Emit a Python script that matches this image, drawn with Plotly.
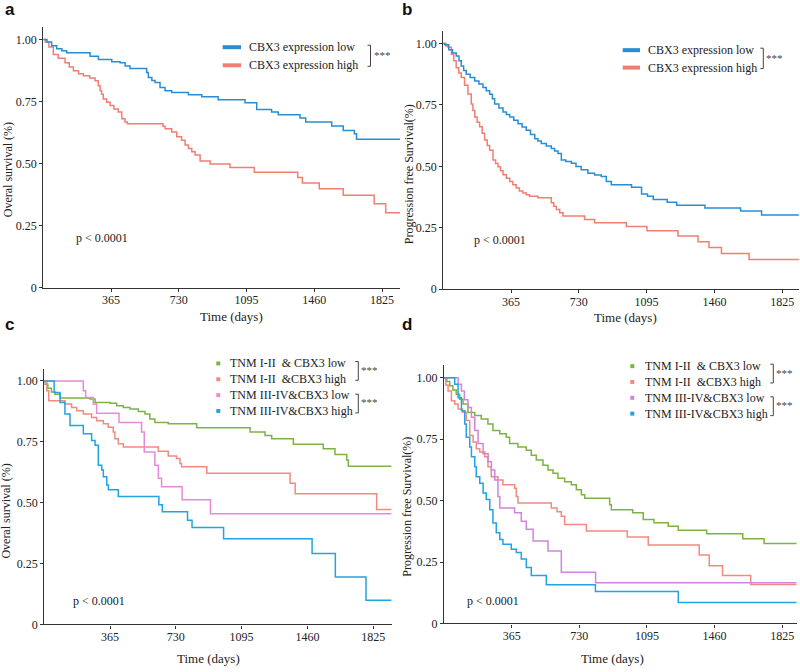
import plotly.graph_objects as go

# ---------------- data ----------------
# Panel a: overall survival, CBX3 low / high
a_low_t = [0, 20, 45, 72, 100, 126, 252, 297, 369, 414, 441, 467, 557, 566, 585, 602, 629, 656, 692, 782, 854, 942, 1087, 1150, 1230, 1266, 1383, 1414, 1554, 1616, 1676, 1688, 1922]
a_low_s = [1.0, 0.99, 0.975, 0.963, 0.955, 0.947, 0.933, 0.92, 0.911, 0.907, 0.894, 0.884, 0.867, 0.847, 0.835, 0.827, 0.807, 0.794, 0.787, 0.778, 0.77, 0.758, 0.745, 0.718, 0.708, 0.697, 0.684, 0.668, 0.652, 0.634, 0.621, 0.598, 0.598]
a_high_t = [0, 10, 30, 54, 80, 117, 140, 162, 190, 216, 250, 279, 296, 306, 314, 323, 341, 360, 380, 404, 423, 440, 453, 645, 656, 692, 719, 745, 764, 782, 800, 818, 845, 899, 1006, 1137, 1371, 1396, 1487, 1616, 1783, 1845, 1922]
a_high_s = [1.0, 0.99, 0.97, 0.94, 0.925, 0.907, 0.89, 0.874, 0.862, 0.854, 0.845, 0.834, 0.814, 0.794, 0.78, 0.761, 0.747, 0.734, 0.72, 0.708, 0.681, 0.668, 0.661, 0.651, 0.641, 0.628, 0.608, 0.594, 0.575, 0.561, 0.548, 0.535, 0.511, 0.499, 0.484, 0.465, 0.444, 0.422, 0.399, 0.373, 0.338, 0.302, 0.302]

# Panel b: progression free survival, CBX3 low / high
b_low_t = [0, 8, 30, 50, 70, 85, 97, 110, 124, 145, 170, 192, 214, 232, 250, 265, 277, 300, 322, 340, 358, 380, 403, 425, 447, 470, 493, 510, 528, 555, 582, 600, 618, 636, 660, 690, 715, 743, 779, 815, 851, 878, 905, 1014, 1068, 1100, 1131, 1206, 1257, 1409, 1601, 1714, 1915]
b_low_s = [1.0, 0.995, 0.975, 0.962, 0.949, 0.93, 0.909, 0.89, 0.875, 0.862, 0.848, 0.835, 0.821, 0.808, 0.794, 0.775, 0.754, 0.738, 0.721, 0.711, 0.701, 0.688, 0.674, 0.66, 0.647, 0.63, 0.613, 0.603, 0.593, 0.583, 0.573, 0.563, 0.553, 0.526, 0.52, 0.513, 0.5, 0.486, 0.472, 0.465, 0.459, 0.439, 0.425, 0.415, 0.388, 0.379, 0.365, 0.354, 0.342, 0.331, 0.318, 0.302, 0.302]
b_high_t = [0, 15, 26, 44, 57, 70, 84, 97, 115, 133, 151, 160, 170, 183, 196, 210, 223, 237, 250, 268, 282, 295, 308, 322, 340, 358, 375, 393, 410, 429, 447, 465, 510, 582, 595, 609, 627, 645, 761, 815, 986, 1097, 1264, 1372, 1431, 1498, 1647, 1915]
b_high_s = [1.0, 0.99, 0.985, 0.956, 0.93, 0.902, 0.88, 0.862, 0.83, 0.795, 0.754, 0.728, 0.701, 0.68, 0.661, 0.635, 0.607, 0.585, 0.566, 0.526, 0.512, 0.499, 0.482, 0.466, 0.452, 0.439, 0.425, 0.412, 0.4, 0.392, 0.385, 0.379, 0.372, 0.352, 0.338, 0.325, 0.311, 0.298, 0.284, 0.271, 0.255, 0.238, 0.217, 0.193, 0.17, 0.146, 0.121, 0.121]

# Panel c: overall survival by TNM stage & CBX3
c_g1_t = [0, 4, 20, 40, 60, 88, 254, 282, 366, 402, 439, 476, 522, 559, 586, 614, 688, 846, 1142, 1225, 1262, 1382, 1548, 1613, 1678, 1687, 1927]
c_g1_s = [1.0, 0.987, 0.97, 0.955, 0.946, 0.93, 0.926, 0.912, 0.909, 0.898, 0.891, 0.885, 0.875, 0.864, 0.844, 0.83, 0.824, 0.808, 0.79, 0.776, 0.763, 0.74, 0.722, 0.698, 0.675, 0.65, 0.65]
c_g2_t = [0, 15, 25, 115, 152, 180, 217, 263, 291, 328, 355, 383, 392, 411, 439, 633, 688, 734, 753, 762, 902, 1364, 1392, 1844, 1927]
c_g2_s = [1.0, 0.96, 0.919, 0.905, 0.891, 0.878, 0.864, 0.85, 0.837, 0.824, 0.81, 0.79, 0.763, 0.742, 0.729, 0.711, 0.692, 0.682, 0.661, 0.648, 0.621, 0.58, 0.537, 0.472, 0.472]
c_g3_t = [0, 217, 230, 272, 291, 415, 540, 555, 614, 633, 651, 765, 922, 1927]
c_g3_s = [1.0, 0.96, 0.932, 0.905, 0.868, 0.83, 0.79, 0.708, 0.654, 0.6, 0.566, 0.512, 0.455, 0.455]
c_g4_t = [0, 55, 88, 115, 143, 217, 263, 282, 300, 319, 328, 347, 356, 411, 636, 655, 795, 820, 995, 1486, 1615, 1785, 1927]
c_g4_s = [1.0, 0.953, 0.912, 0.864, 0.817, 0.783, 0.756, 0.736, 0.654, 0.634, 0.607, 0.573, 0.553, 0.525, 0.492, 0.463, 0.428, 0.398, 0.352, 0.291, 0.195, 0.099, 0.099]

# Panel d: progression free survival by TNM stage & CBX3
d_g1_t = [0, 15, 31, 48, 66, 85, 103, 129, 166, 201, 237, 264, 301, 336, 354, 399, 444, 471, 498, 534, 561, 588, 615, 651, 687, 714, 741, 759, 894, 903, 1018, 1075, 1133, 1210, 1264, 1417, 1612, 1727, 1903]
d_g1_s = [1.0, 0.985, 0.967, 0.95, 0.933, 0.912, 0.893, 0.859, 0.846, 0.832, 0.812, 0.785, 0.772, 0.758, 0.732, 0.718, 0.705, 0.685, 0.665, 0.644, 0.624, 0.611, 0.591, 0.577, 0.564, 0.544, 0.524, 0.51, 0.483, 0.463, 0.45, 0.423, 0.41, 0.396, 0.379, 0.365, 0.345, 0.325, 0.325]
d_g2_t = [0, 10, 22, 40, 58, 76, 100, 120, 139, 157, 174, 193, 220, 237, 255, 291, 318, 381, 390, 399, 579, 610, 633, 651, 768, 989, 1102, 1377, 1431, 1503, 1655, 1903]
d_g2_s = [1.0, 0.97, 0.946, 0.906, 0.893, 0.873, 0.86, 0.826, 0.765, 0.738, 0.711, 0.698, 0.678, 0.638, 0.597, 0.584, 0.564, 0.55, 0.517, 0.49, 0.47, 0.455, 0.436, 0.403, 0.376, 0.352, 0.319, 0.279, 0.235, 0.195, 0.158, 0.158]
d_g3_t = [0, 76, 94, 110, 129, 148, 166, 184, 211, 238, 256, 274, 291, 301, 381, 417, 444, 481, 561, 633, 818, 1903]
d_g3_s = [1.0, 0.973, 0.946, 0.91, 0.879, 0.839, 0.785, 0.732, 0.691, 0.658, 0.624, 0.584, 0.517, 0.47, 0.45, 0.416, 0.383, 0.336, 0.295, 0.208, 0.166, 0.166]
d_g4_t = [0, 58, 76, 94, 112, 120, 139, 148, 166, 174, 193, 211, 228, 247, 264, 282, 301, 318, 363, 390, 417, 444, 471, 552, 817, 1264, 1903]
d_g4_s = [1.0, 0.973, 0.919, 0.866, 0.812, 0.758, 0.718, 0.678, 0.638, 0.597, 0.571, 0.531, 0.504, 0.463, 0.409, 0.369, 0.342, 0.322, 0.302, 0.289, 0.262, 0.228, 0.195, 0.157, 0.13, 0.085, 0.085]

two_group_names = ["CBX3 expression low", "CBX3 expression high"]
four_group_names = ["TNM I-II  & CBX3 low", "TNM I-II  &CBX3 high", "TNM III-IV&CBX3 low", "TNM III-IV&CBX3 high"]
x_tick_vals = [365, 730, 1095, 1460, 1825]
y_tick_vals = [0, 0.25, 0.5, 0.75, 1.0]
y_tick_text = ["0", "0.25", "0.50", "0.75", "1.00"]

# ---------------- styling ----------------
W, H = 800, 672
SERIF = "Liberation Serif"
BLUE2, RED2 = "#2A8DD4", "#F07F72"
GREEN, RED4, PINK_C, PINK_D, BLUE4 = "#7CB342", "#F28A80", "#E58BD6", "#CE85DC", "#22A3E2"
AX = "#333333"


def px(x):
    return x / W


def py(y):
    return 1 - y / H


# panels: (x0 px, x1 px, y_bottom px, y_top px, x range end)
panels = {
    "a": (43.3, 400.0, 290.7, 27.5, 1922),
    "b": (443.2, 798.9, 292.3, 31.6, 1915),
    "c": (44.2, 391.6, 631.0, 372.7, 1927),
    "d": (444.0, 796.7, 630.0, 369.3, 1903),
}

fig = go.Figure()
layout = dict(width=W, height=H, margin=dict(l=0, r=0, t=0, b=0),
              paper_bgcolor="white", plot_bgcolor="white", showlegend=False)

axis_common = dict(showline=True, linecolor=AX, linewidth=1.3, ticks="outside", ticklen=3,
                   tickwidth=1, tickcolor=AX, showgrid=False, zeroline=False,
                   tickfont=dict(family=SERIF, size=12, color="#222"))

for i, (k, (x0, x1, yb, yt, xend)) in enumerate(panels.items()):
    n = "" if i == 0 else str(i + 1)
    layout["xaxis" + n] = dict(axis_common, domain=[px(x0), px(x1)], range=[0, xend],
                               anchor="y" + n, tickvals=x_tick_vals, ticklabelstandoff=-2)
    layout["yaxis" + n] = dict(axis_common, domain=[py(yb), py(yt)], range=[0, 1.05],
                               anchor="x" + n, tickvals=y_tick_vals, ticktext=y_tick_text)

series = [
    (1, a_high_t, a_high_s, RED2), (1, a_low_t, a_low_s, BLUE2),
    (2, b_high_t, b_high_s, RED2), (2, b_low_t, b_low_s, BLUE2),
    (3, c_g1_t, c_g1_s, GREEN), (3, c_g2_t, c_g2_s, RED4), (3, c_g3_t, c_g3_s, PINK_C), (3, c_g4_t, c_g4_s, BLUE4),
    (4, d_g1_t, d_g1_s, GREEN), (4, d_g2_t, d_g2_s, RED4), (4, d_g3_t, d_g3_s, PINK_D), (4, d_g4_t, d_g4_s, BLUE4),
]
for idx, t, s, col in series:
    n = "" if idx == 1 else str(idx)
    fig.add_trace(go.Scatter(x=t, y=s, mode="lines", line=dict(color=col, width=1.5, shape="hv"),
                             xaxis="x" + n, yaxis="y" + n, hoverinfo="skip"))

ann = []
shapes = []


def text(x, y, s, size=12, xanchor="left", yanchor="middle", angle=0, color="#222", family=SERIF, bold=False):
    ann.append(dict(x=px(x), y=py(y), xref="paper", yref="paper", text=("<b>%s</b>" % s) if bold else s,
                    showarrow=False, xanchor=xanchor, yanchor=yanchor, textangle=angle,
                    font=dict(family=family, size=size, color=color)))


def bracket(x, y1, y2, stars_y):
    shapes.append(dict(type="path", xref="paper", yref="paper",
                       path="M %f %f L %f %f L %f %f L %f %f" % (px(x - 3), py(y1), px(x), py(y1), px(x), py(y2), px(x - 3), py(y2)),
                       line=dict(color="#444", width=1)))
    text(x + 1, stars_y, "***", size=11, color="#444")


# panel letters
for letter, (lx, ly) in {"a": (3, 10), "b": (400, 10), "c": (3, 328), "d": (400, 328)}.items():
    text(lx, ly, letter, size=17, family="Liberation Sans", bold=True, color="#111")

# axis titles
text(8, 172, "Overal survival (%)", size=12, xanchor="center", angle=-90)
text(409, 176, "Progression free Survival(%)", size=12, xanchor="center", angle=-90)
text(6, 517, "Overal survival (%)", size=12, xanchor="center", angle=-90)
text(407, 512, "Progression free Survival(%)", size=12, xanchor="center", angle=-90)
text(232, 320, "Time (days)", size=13, xanchor="center")
text(625, 321, "Time (days)", size=13, xanchor="center")
text(208, 665, "Time (days)", size=13, xanchor="center")
text(612, 665, "Time (days)", size=13, xanchor="center")

# p values
text(74, 241, "p < 0.0001", size=12)
text(472, 243, "p < 0.0001", size=12)
text(71, 607, "p < 0.0001", size=12)
text(465, 607, "p < 0.0001", size=12)

# two-group legends (a, b)
for (lx0, lx1, tx, y1, y2, bx) in [(222.7, 241, 246.5, 47.7, 66.0, 370.5), (622.7, 640, 645.5, 50.7, 68.3, 763.3)]:
    for yy, col, name in [(y1, BLUE2, two_group_names[0]), (y2, RED2, two_group_names[1])]:
        shapes.append(dict(type="line", xref="paper", yref="paper", x0=px(lx0), x1=px(lx1), y0=py(yy), y1=py(yy),
                           line=dict(color=col, width=4)))
        text(tx, yy, name, size=12)
    bracket(bx, y1 - 2, y2 + 1, (y1 + y2) / 2 - 1)

# four-group legends (c, d)
for (sx, tx, ys, bx, pink) in [(218.3, 227.5, [367.3, 383.3, 399.3, 415.3], 358.3, PINK_C),
                               (632.3, 642.5, [370.0, 386.0, 402.0, 418.0], 773.3, PINK_D)]:
    cols = [GREEN, RED4, pink, BLUE4]
    for yy, col, name in zip(ys, cols, four_group_names):
        shapes.append(dict(type="rect", xref="paper", yref="paper", x0=px(sx - 2), x1=px(sx + 2),
                           y0=py(yy - 2), y1=py(yy + 2), line=dict(width=0), fillcolor=col))
        text(tx, yy, name, size=12)
    bracket(bx, ys[0] - 2, ys[1] + 1, (ys[0] + ys[1]) / 2 - 1)
    bracket(bx, ys[2] - 1, ys[3] + 2, (ys[2] + ys[3]) / 2 - 1)

layout["annotations"] = ann
layout["shapes"] = shapes
fig.update_layout(**layout)
fig.write_html("out.html", config={"displayModeBar": False},
               post_script="document.body.style.margin='0';document.body.style.overflow='hidden';")
